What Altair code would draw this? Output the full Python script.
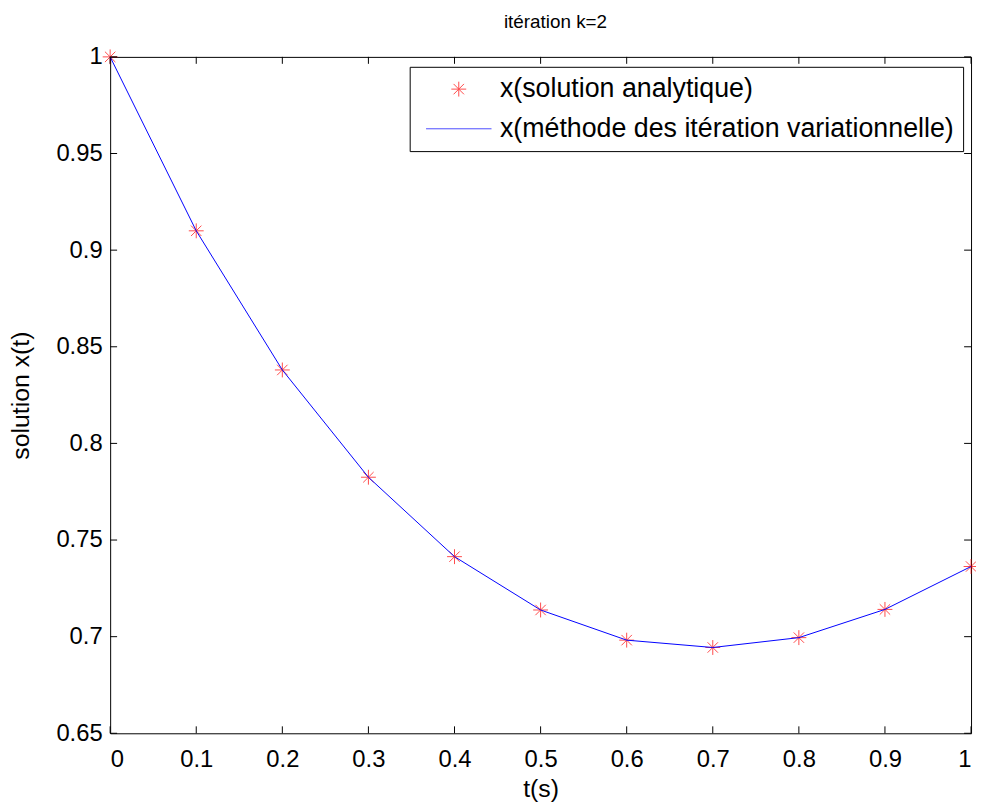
import altair as alt
import pandas as pd

# ---- data ----
t_values = [0.0, 0.1, 0.2, 0.3, 0.4, 0.5, 0.6, 0.7, 0.8, 0.9, 1.0]
x_analytic = [1.0, 0.910, 0.838, 0.7825, 0.7414, 0.7138, 0.6982, 0.6944, 0.6995, 0.7141, 0.7363]
x_vim = [1.0, 0.910, 0.838, 0.7825, 0.7414, 0.7138, 0.6982, 0.6944, 0.6995, 0.7141, 0.7363]

series_names = ["x(solution analytique)", "x(méthode des itération variationnelle)"]
x_ticks = [0, 0.1, 0.2, 0.3, 0.4, 0.5, 0.6, 0.7, 0.8, 0.9, 1.0]
y_ticks = [0.65, 0.7, 0.75, 0.8, 0.85, 0.9, 0.95, 1.0]

W, H = 868, 682
FONT = "Liberation Sans"
TICK = 7

df_a = pd.DataFrame({"t": t_values, "x": x_analytic, "series": series_names[0]})
df_v = pd.DataFrame({"t": t_values, "x": x_vim, "series": series_names[1]})
df_xt = pd.DataFrame({"v": x_ticks})
df_yt = pd.DataFrame({"v": y_ticks})

xscale = alt.Scale(domain=[0, 1], nice=False, zero=False)
yscale = alt.Scale(domain=[0.65, 1], nice=False, zero=False)

star = "M-1,0L1,0M0,-1L0,1M-0.7,-0.7L0.7,0.7M-0.7,0.7L0.7,-0.7"
lineshape = "M-4.4,0L4.4,0"

color_scale = alt.Scale(domain=series_names, range=["#ff0000", "#0000ff"])
shape_scale = alt.Scale(domain=series_names, range=[star, lineshape])

legend = alt.Legend(
    title=None, orient="none", legendX=302, legendY=10,
    fillColor="white", strokeColor="black", padding=9,
    symbolSize=225, symbolStrokeWidth=1, symbolFillColor="transparent",
    symbolOffset=27,
    labelFont=FONT, labelFontSize=27, labelColor="black", labelOffset=28,
    rowPadding=12, labelLimit=800,
)

xaxis = alt.Axis(values=x_ticks, format=".1~f", ticks=False, domain=False, grid=False,
                 labelFont=FONT, labelFontSize=24, labelColor="black", labelPadding=14,
                 title="t(s)", titleFont=FONT, titleFontSize=25, titleFontWeight="normal",
                 titleColor="black", titlePadding=6)
yaxis = alt.Axis(values=y_ticks, format=".2~f", ticks=False, domain=False, grid=False,
                 labelFont=FONT, labelFontSize=24, labelColor="black", labelPadding=8,
                 title="solution x(t)", titleFont=FONT, titleFontSize=25, titleFontWeight="normal",
                 titleColor="black", titlePadding=23)

points = alt.Chart(df_a).mark_point(filled=False, strokeWidth=1, size=225, clip=False).encode(
    x=alt.X("t:Q", scale=xscale, axis=xaxis),
    y=alt.Y("x:Q", scale=yscale, axis=yaxis),
    color=alt.Color("series:N", scale=color_scale, legend=legend),
    shape=alt.Shape("series:N", scale=shape_scale, legend=legend),
)

line = alt.Chart(df_v).mark_line(strokeWidth=1).encode(
    x=alt.X("t:Q", scale=xscale, axis=xaxis),
    y=alt.Y("x:Q", scale=yscale, axis=yaxis),
    color=alt.Color("series:N", scale=color_scale, legend=legend),
)

tick_style = dict(color="black", strokeWidth=1)
xt_bottom = alt.Chart(df_xt).mark_rule(**tick_style).encode(
    x=alt.X("v:Q", scale=xscale, axis=xaxis), y=alt.value(H), y2=alt.value(H - TICK))
xt_top = alt.Chart(df_xt).mark_rule(**tick_style).encode(
    x=alt.X("v:Q", scale=xscale, axis=xaxis), y=alt.value(0), y2=alt.value(TICK))
yt_left = alt.Chart(df_yt).mark_rule(**tick_style).encode(
    y=alt.Y("v:Q", scale=yscale, axis=yaxis), x=alt.value(0), x2=alt.value(TICK))
yt_right = alt.Chart(df_yt).mark_rule(**tick_style).encode(
    y=alt.Y("v:Q", scale=yscale, axis=yaxis), x=alt.value(W), x2=alt.value(W - TICK))

chart = alt.layer(points, line, xt_bottom, xt_top, yt_left, yt_right).properties(
    width=W, height=H,
    background="white",
    title=alt.TitleParams("itération k=2", font=FONT, fontSize=19, fontWeight="normal",
                          color="black", anchor="middle", frame="group", offset=13, dx=15),
    autosize=alt.AutoSizeParams(type="none"),
    padding={"left": 103, "top": 46, "right": 5, "bottom": 68},
).configure_view(stroke="black", strokeWidth=1)

chart.save("out.html", embed_options={"renderer": "svg", "actions": False})
